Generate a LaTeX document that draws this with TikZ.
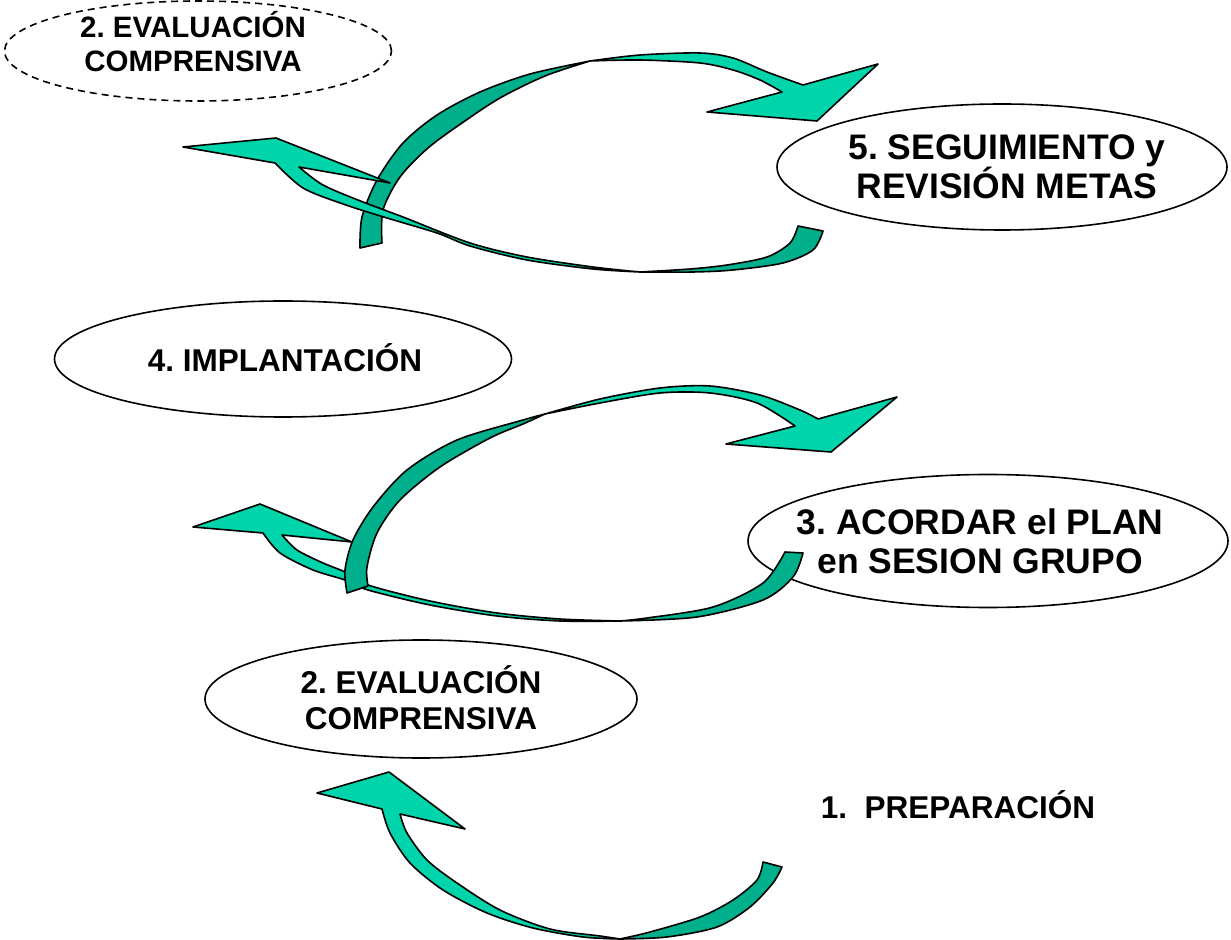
\documentclass[tikz,border=0pt]{standalone}
\usepackage{fontspec}
\setmainfont{Liberation Sans}
\usepackage{tikz}
\usetikzlibrary{shapes}

\definecolor{tealfront}{RGB}{0,212,170}
\definecolor{tealback}{RGB}{0,176,140}
\frenchspacing

\begin{document}
\begin{tikzpicture}[x=0.5pt, y=-0.5pt,
		stage/.style={draw, ellipse, fill=white, line width=0.8pt, inner sep=0pt},
		front/.style={draw, fill=tealfront, line width=0.8pt, line join=round},
		back/.style={draw, fill=tealback, line width=0.8pt, line join=round},
		bigtxt/.style={align=center, font=\bfseries\fontsize{17.75}{19.5}\selectfont},
		midtxt/.style={align=center, font=\bfseries\fontsize{15.75}{18}\selectfont}]
	\useasboundingbox (0,0) rectangle (1231,940);

	% the stages
	\node[stage, dash pattern=on 3.5pt off 2.5pt, minimum width=193.5pt, minimum height=50pt] (evaltop) at (198,51) {};
	\node[stage, minimum width=225pt, minimum height=63pt] (seguim) at (1002,167) {};
	\node[stage, minimum width=228.5pt, minimum height=58pt] (implant) at (283,359) {};
	\node[stage, minimum width=240pt, minimum height=66.5pt] (acordar) at (988,541) {};
	\node[stage, minimum width=216pt, minimum height=59pt] (evalbot) at (421,699) {};

	\node[midtxt, font=\bfseries\fontsize{14.75}{17}\selectfont] (evaltoptxt) at (193,42) {2. EVALUACIÓN\\COMPRENSIVA};
	\node[bigtxt] (seguimtxt) at (1007,167) {5. SEGUIMIENTO y\\REVISIÓN METAS};
	\node[midtxt] (implanttxt) at (285,358) {4. IMPLANTACIÓN};
	\node[bigtxt] (acordartxt) at (980,541) {3. ACORDAR el PLAN\\en SESION GRUPO};
	\node[midtxt] (evalbottxt) at (421,698) {2. EVALUACIÓN\\COMPRENSIVA};
	\node[midtxt] (preptxt) at (958,805) {1.\ \ PREPARACIÓN};

	% lower arrow
	\path[back] plot[smooth] coordinates {(782,867) (773,883) (750,907) (717,927) (667,937) (620,939)}
		-- plot[smooth] coordinates {(620,939) (650,932) (700,917) (733,900) (757,880) (763,862)} -- cycle;
	\path[front] plot[smooth] coordinates {(382,809) (390,833) (410,863) (443,890) (487,913) (533,928) (583,937) (620,939)}
		-- plot[smooth] coordinates {(620,939) (600,936) (550,929) (500,910) (457,883) (427,860) (407,833) (400,814)}
		-- (465,829) -- (389,772) -- (317,793) -- cycle;

	% middle loop
	\path[front] plot[smooth] coordinates {(282,535) (297,550) (323,563) (345,572) (368,585) (430,601) (497,613) (560,619) (620,621)}
		-- plot[smooth] coordinates {(620,621) (560,621) (497,616) (430,605) (368,590) (345,580) (313,570) (280,553) (263,533)}
		-- (193,527) -- (260,504) -- (352,542) -- cycle;
	\path[back] plot[smooth] coordinates {(803,553) (793,577) (763,600) (697,617) (620,621)}
		-- plot[smooth] coordinates {(620,621) (647,618) (713,607) (763,583) (785,552)} -- cycle;
	\path[back] plot[smooth] coordinates {(347,593) (345,570) (353,540) (373,507) (407,470) (457,440) (523,420) (545,414)}
		-- plot[smooth] coordinates {(545,414) (523,424) (490,438) (440,467) (400,500) (377,533) (367,567) (368,586)} -- cycle;
	\path[front] plot[smooth] coordinates {(545,414) (600,399) (660,388) (710,386) (760,395) (800,410) (818,419)}
		-- (897,397) -- (831,452) -- (726,444) -- (795,426)
		-- plot[smooth] coordinates {(795,426) (757,403) (710,393) (660,393) (600,403) (545,414)} -- cycle;

	% upper loop
	\path[back] plot[smooth] coordinates {(360,248) (362,217) (377,180) (403,143) (437,115) (480,92) (530,74) (590,61)}
		-- plot[smooth] coordinates {(590,61) (545,76) (500,98) (462,123) (428,148) (400,177) (383,210) (382,243)} -- cycle;
	\path[front] plot[smooth] coordinates {(299,167) (323,185) (363,202) (403,217) (470,243) (527,257) (593,267) (640,272)}
		-- plot[smooth] coordinates {(640,272) (593,269) (527,260) (470,246) (437,233) (387,218) (343,204) (303,188) (275,163)}
		-- (183,147) -- (276,138) -- (390,183) -- cycle;
	\path[back] plot[smooth] coordinates {(823,231) (813,250) (783,263) (733,270) (693,272) (640,272)}
		-- plot[smooth] coordinates {(640,272) (690,269) (727,265) (767,257) (790,243) (798,226)} -- cycle;
	\path[front] plot[smooth] coordinates {(590,61) (640,55) (700,53) (733,58) (767,72) (803,85)}
		-- (878,64) -- (817,121) -- (707,112) -- (782,92)
		-- plot[smooth] coordinates {(782,92) (760,80) (733,70) (700,63) (640,60) (590,61)} -- cycle;
\end{tikzpicture}
\end{document}
